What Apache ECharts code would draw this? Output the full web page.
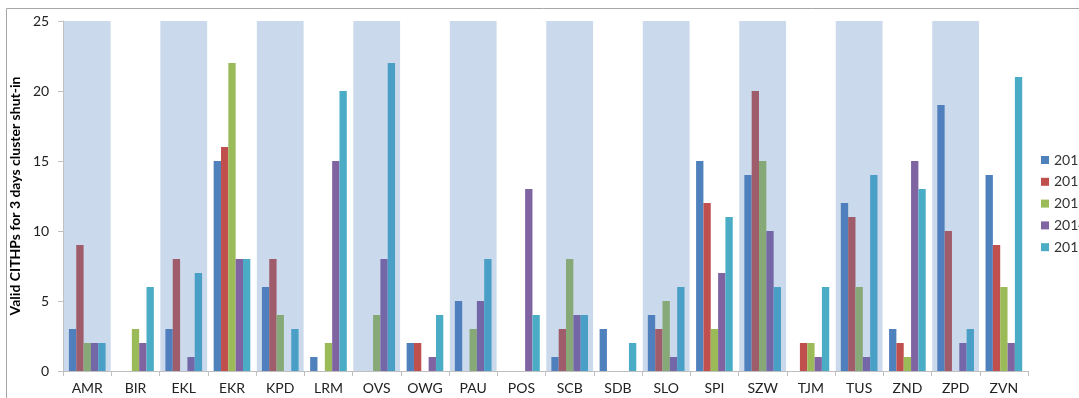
<!DOCTYPE html>
<html>
<head>
<meta charset="utf-8">
<script src="https://cdn.jsdelivr.net/npm/echarts@6/dist/echarts.min.js"></script>
<style>
html,body{margin:0;padding:0;background:#fff;}
#chart{width:1079px;height:398px;}
</style>
</head>
<body>
<div id="chart"></div>
<script>
const categories = ['AMR','BIR','EKL','EKR','KPD','LRM','OVS','OWG','PAU','POS','SCB','SDB','SLO','SPI','SZW','TJM','TUS','ZND','ZPD','ZVN'];
const years = ['2011','2012','2013','2014','2015'];
const v2011 = [3,0,3,15,6,1,0,2,5,0,1,3,4,15,14,0,12,3,19,14];
const v2012 = [9,0,8,16,8,0,0,2,0,0,3,0,3,12,20,2,11,2,10,9];
const v2013 = [2,3,0,22,4,2,4,0,3,0,8,0,5,3,15,2,6,1,0,6];
const v2014 = [2,2,1,8,0,15,8,1,5,13,4,0,1,7,10,1,1,15,2,2];
const v2015 = [2,6,7,8,3,20,22,4,8,4,4,2,6,11,6,6,14,13,3,21];
const yTicks = [0,5,10,15,20,25];

const seriesValues = [v2011, v2012, v2013, v2014, v2015];
const colorsOut = ['#4f81bd','#c0504d','#9bbb59','#8064a2','#4bacc6'];
const colorsIn  = ['#4f80bd','#9f5d6b','#86a977','#7467a7','#4a9fc7'];
const yMax = yTicks[yTicks.length-1];
const isBand = i => i % 2 === 0;

const chart = echarts.init(document.getElementById('chart'), null, {renderer:'canvas'});
const FONT = 'Lato, "Open Sans", sans-serif';

const series = seriesValues.map((vals, s) => ({
  name: years[s],
  type: 'bar',
  xAxisIndex: 0,
  yAxisIndex: 0,
  barGap: '0%',
  barCategoryGap: '24%',
  z: 3,
  itemStyle: {color: colorsOut[s]},
  data: vals.map((v, i) => ({
    value: v === 0 ? '-' : v,
    itemStyle: {color: isBand(i) ? colorsIn[s] : colorsOut[s]}
  }))
}));

series.push({
  name: 'band',
  type: 'bar',
  xAxisIndex: 1,
  yAxisIndex: 0,
  barWidth: '97%',
  silent: true,
  z: 1,
  itemStyle: {color: '#cad9eb'},
  data: categories.map((c, i) => isBand(i) ? yMax : '-')
});

chart.setOption({
  animation: false,
  backgroundColor: '#fff',
  graphic: [{
    type: 'rect',
    shape: {x: 6.5, y: 8.5, width: 1200, height: 500},
    style: {fill: 'none', stroke: '#a6a6a6', lineWidth: 1},
    silent: true,
    z: 0
  }],
  grid: {left: 63, right: 51, top: 21, bottom: 27, containLabel: false},
  legend: {
    data: years,
    orient: 'vertical',
    left: 1041,
    top: 153,
    itemWidth: 8,
    itemHeight: 8,
    itemGap: 7.8,
    icon: 'rect',
    padding: 0,
    textStyle: {fontFamily: FONT, fontSize: 14, color: '#333', width: 60, overflow: 'none', padding: [3, 0, 3, 0]}
  },
  xAxis: [{
    type: 'category',
    data: categories,
    axisLine: {lineStyle: {color: '#bfbfbf'}},
    axisTick: {show: true, length: 5, lineStyle: {color: '#bfbfbf'}},
    axisLabel: {fontFamily: FONT, fontSize: 14, color: '#222', margin: 10, interval: 0},
    splitLine: {show: false}
  }, {
    type: 'category',
    data: categories,
    show: false
  }],
  yAxis: [{
    type: 'value',
    min: 0,
    max: yMax,
    interval: 5,
    name: 'Valid CITHPs for 3 days cluster shut-in',
    nameLocation: 'middle',
    nameGap: 25,
    nameTextStyle: {fontFamily: FONT, fontSize: 14, fontWeight: 'bold', color: '#000'},
    axisLine: {show: true, lineStyle: {color: '#bfbfbf'}},
    axisTick: {show: true, length: 5, lineStyle: {color: '#bfbfbf'}},
    axisLabel: {fontFamily: FONT, fontSize: 14, color: '#222', margin: 14},
    splitLine: {show: false}
  }],
  series: series
});
</script>
</body>
</html>
